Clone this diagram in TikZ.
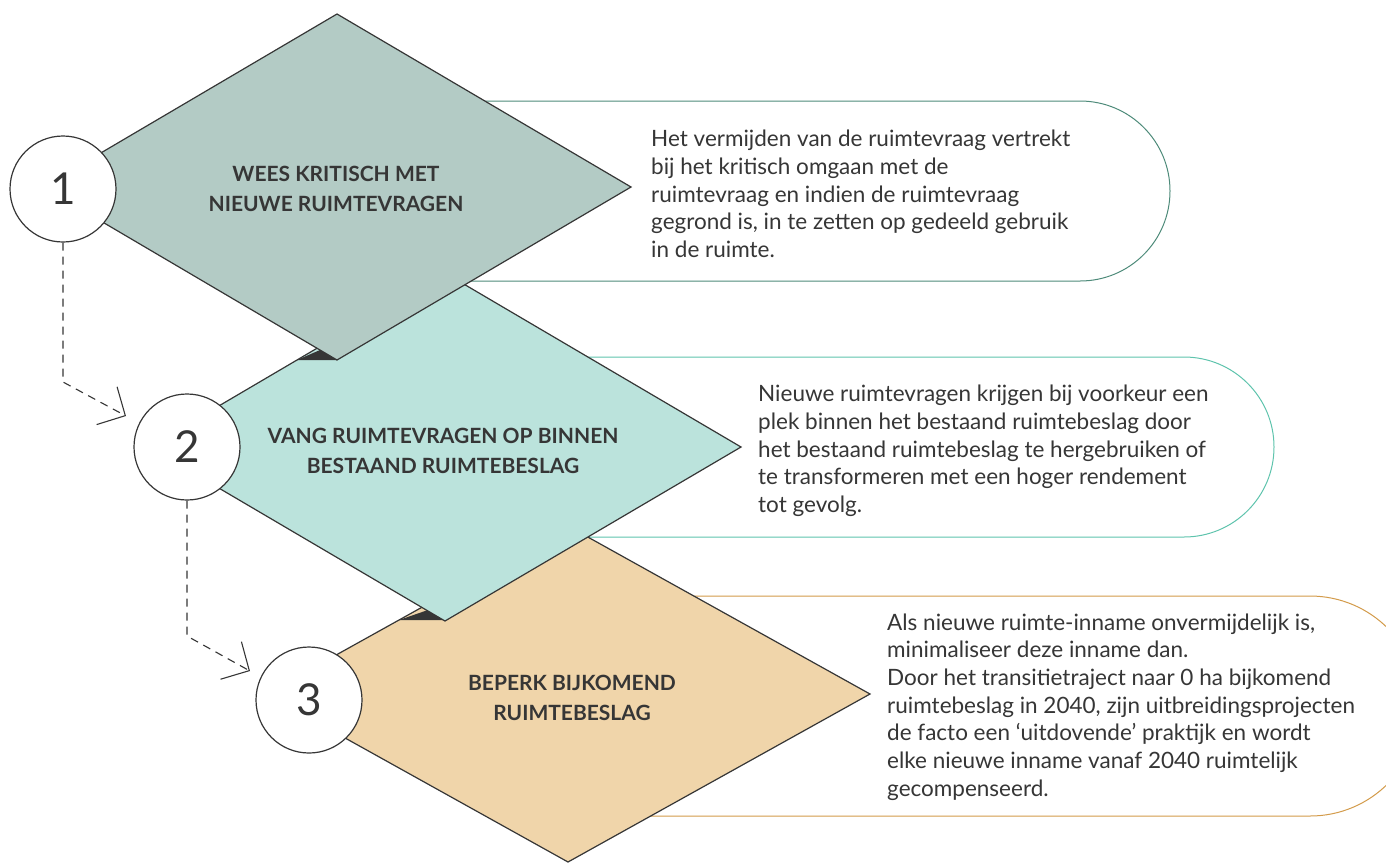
\documentclass[tikz,border=0pt]{standalone}
\usepackage{fontspec}
\setmainfont{Lato}
\usetikzlibrary{positioning,arrows.meta}
\definecolor{inkt}{HTML}{363636}
\definecolor{stap1}{HTML}{B3CBC5}
\definecolor{stap2}{HTML}{BBE3DC}
\definecolor{stap3}{HTML}{F0D5AA}
\definecolor{rand1}{HTML}{4E8B7A}
\definecolor{rand2}{HTML}{5FC4AD}
\definecolor{rand3}{HTML}{D39B4A}
\tikzset{ruit/.style={draw=inkt, line width=1.2pt}}
\tikzset{nummer/.style={circle, draw=inkt, line width=1.2pt, fill=white, minimum size=106pt, inner sep=0pt, text=inkt, font=\fontsize{44}{44}\selectfont}}
\tikzset{titel/.style={align=center, text=inkt, font=\bfseries\fontsize{21}{30}\selectfont}}
\tikzset{uitleg/.style={align=left, anchor=west, inner sep=0pt, text=inkt, font=\fontsize{22.5}{27.7}\selectfont}}
\tikzset{vak/.style={draw=#1, line width=1pt, fill=white}}
\tikzset{pijl/.style={draw=inkt, line width=1.1pt, dash pattern=on 8pt off 6pt, -{Straight Barb[length=21pt, width=43pt, line width=1.1pt]}}}
% midden x, midden y, halve breedte, halve hoogte
\newcommand\ruitvorm[5][]{
		\draw[ruit, #1] (#2-#4,#3) -- (#2,#3-#5) -- (#2+#4,#3) -- (#2,#3+#5) -- cycle;
		}
% kleur, linker x, start boog, boven y, straal
\newcommand\tekstvak[5]{
		\draw[vak=#1] (#2,#4) -- (#3,#4) arc(-90:90:#5) -- (#2,#4+2*#5) -- cycle;
		}

\begin{document}
\begin{tikzpicture}[x=1pt, y=-1pt]
		\useasboundingbox (0,0) rectangle (1386,863);
		\clip (0,0) rectangle (1386,863);
		\tekstvak{rand1}{300}{1080}{101}{90}
		\tekstvak{rand2}{400}{1184}{357}{90}
		\tekstvak{rand3}{500}{1310}{596}{110}
		\ruitvorm[fill=stap3]{568}{694}{302}{168}
		\fill[inkt] (399,620) -- (445,620) -- (428,610) -- cycle;
		\ruitvorm[fill=stap2]{445}{447}{296}{174}
		\fill[inkt] (297,360) -- (337,360) -- (320,350) -- cycle;
		\ruitvorm[fill=stap1]{337}{187}{294}{173}
		\node[nummer] (n1) at (63,189) {1};
		\node[nummer] (n2) at (187,447) {2};
		\node[nummer] (n3) at (309,700) {3};
		\node[titel] (t1) at (336,189) {WEES KRITISCH MET\\NIEUWE RUIMTEVRAGEN};
		\node[titel] (t2) at (443,451) {VANG RUIMTEVRAGEN OP BINNEN\\BESTAAND RUIMTEBESLAG};
		\node[titel] (t3) at (572,698) {BEPERK BIJKOMEND\\RUIMTEBESLAG};
		\node[uitleg] (u1) at (651,194) {Het vermijden van de ruimtevraag vertrekt\\bij het kritisch omgaan met de\\ruimtevraag en indien de ruimtevraag\\gegrond is, in te zetten op gedeeld gebruik\\in de ruimte.};
		\node[uitleg] (u2) at (758,451) {Nieuwe ruimtevragen krijgen bij voorkeur een\\plek binnen het bestaand ruimtebeslag door\\het bestaand ruimtebeslag te hergebruiken of\\te transformeren met een hoger rendement\\tot gevolg.};
		\node[uitleg] (u3) at (887,707) {Als nieuwe ruimte-inname onvermijdelijk is,\\minimaliseer deze inname dan.\\Door het transitietraject naar 0 ha bijkomend\\ruimtebeslag in 2040, zijn uitbreidingsprojecten\\de facto een ‘uitdovende’ praktijk en wordt\\elke nieuwe inname vanaf 2040 ruimtelijk\\gecompenseerd.};
		\coordinate (k1) at (63,382);
		\coordinate (p2) at (126,416);
		\coordinate (k2) at (187,636);
		\coordinate (p3) at (250,671);
		\draw[pijl] (n1) -- (k1) -- (p2);
		\draw[pijl] (n2) -- (k2) -- (p3);
	\end{tikzpicture}
\end{document}
